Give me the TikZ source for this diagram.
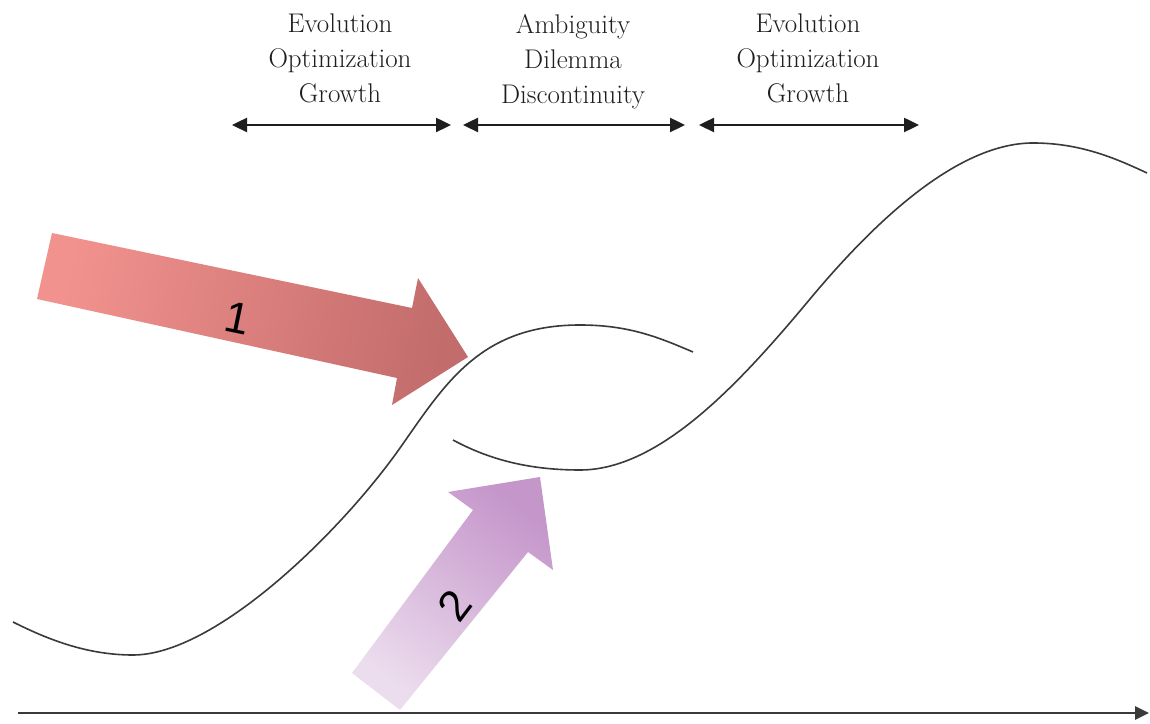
\documentclass[tikz,border=0pt]{standalone}
\usepackage{fontspec}
\newfontfamily\numfont{Liberation Sans}
\usetikzlibrary{arrows.meta}
\definecolor{curvegray}{HTML}{3A3A3A}
\definecolor{txtgray}{HTML}{1E1E1E}
\definecolor{redlight}{HTML}{F2928E}
\definecolor{reddark}{HTML}{C26C6C}
\definecolor{purplelight}{HTML}{ECDDEE}
\definecolor{purpledark}{HTML}{C596CA}
\tikzset{
  curveline/.style={draw=curvegray, line width=1.6pt},
  spanarrow/.style={draw=txtgray, line width=2.4pt, {Triangle[length=15pt,width=14pt]}-{Triangle[length=15pt,width=14pt]}},
  axisline/.style={draw=curvegray, line width=2.6pt, -{Triangle[length=14pt,width=13pt]}},
  phase/.style={font=\fontsize{27}{35}\selectfont, text=txtgray, align=center, inner sep=0pt, anchor=north},
  numlabel/.style={font=\numfont\fontsize{44}{44}\selectfont, text=black, inner sep=0pt}
}
\begin{document}
\begin{tikzpicture}[x=1pt,y=1pt]
\useasboundingbox[fill=white] (0,0) rectangle (1150,723);

% phase labels
\node[phase] (p1) at (340,709) {Evolution\\Optimization\\Growth};
\node[phase] (p2) at (573,709) {Ambiguity\\Dilemma\\Discontinuity};
\node[phase] (p3) at (808,709) {Evolution\\Optimization\\Growth};

% span arrows
\coordinate (s1a) at (232,598); \coordinate (s1b) at (451,598);
\coordinate (s2a) at (463,598); \coordinate (s2b) at (685,598);
\coordinate (s3a) at (699,598); \coordinate (s3b) at (919,598);
\draw[spanarrow] (s1a) -- (s1b);
\draw[spanarrow] (s2a) -- (s2b);
\draw[spanarrow] (s3a) -- (s3b);

% arrow 1
\shade[bottom color=redlight, top color=reddark, shading angle=-101.7]
  (52,490) -- (412,415) -- (418,445) -- (468,366) -- (392,318) -- (397,345) -- (37,424) -- cycle;
\node[numlabel, rotate=-11.7] (n1) at (238,405) {1};

% arrow 2
\shade[bottom color=purplelight, top color=purpledark, shading angle=-37.3]
  (352,50) -- (473,213) -- (448,231) -- (540,246) -- (553,153) -- (528,171) -- (400,13) -- cycle;
\node[numlabel, rotate=52.7] (n2) at (455,118) {2};

% curve 1
\draw[curveline] (13,101) .. controls (45,85) and (85,68) .. (133,68)
  .. controls (215,68) and (340,190) .. (400,275)
  .. controls (445,339) and (480,398) .. (580,398)
  .. controls (630,398) and (660,385) .. (693,371);

% curve 2
\draw[curveline] (453,283) .. controls (490,263) and (530,253) .. (580,253)
  .. controls (660,253) and (740,340) .. (810,424)
  .. controls (870,496) and (955,580) .. (1033,580)
  .. controls (1080,580) and (1115,565) .. (1147,550);

% time axis
\coordinate (ax0) at (18,10);
\coordinate (ax1) at (1149,10);
\draw[axisline] (ax0) -- (ax1);
\end{tikzpicture}
\end{document}
